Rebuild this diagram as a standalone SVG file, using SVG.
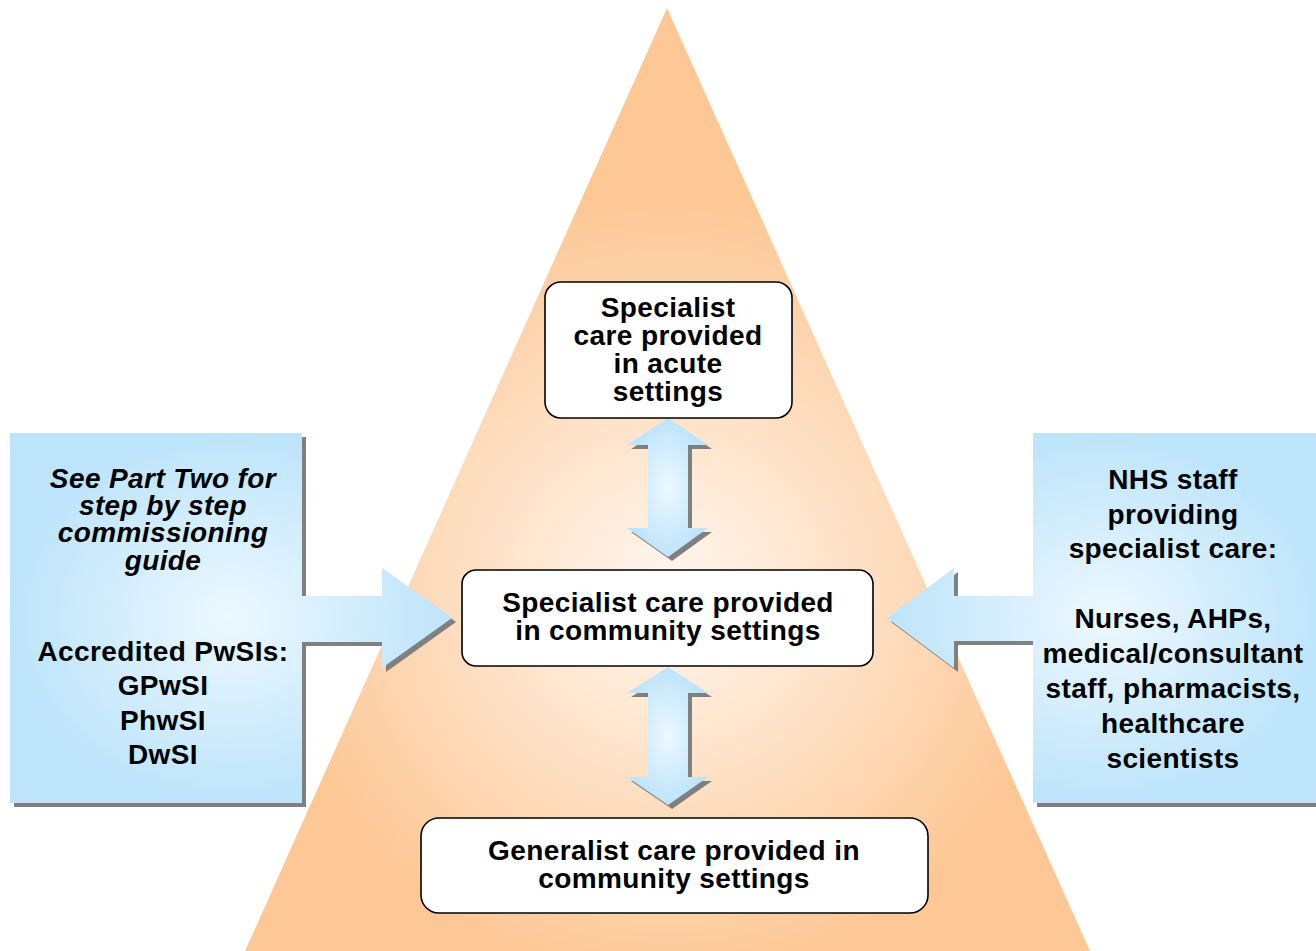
<svg xmlns="http://www.w3.org/2000/svg" width="1316" height="951" viewBox="0 0 1316 951">
<defs>
<radialGradient id="tri" gradientUnits="userSpaceOnUse" cx="667" cy="590" r="390">
<stop offset="0" stop-color="#FFF7F0"/>
<stop offset="0.5" stop-color="#FEE0C4"/>
<stop offset="1" stop-color="#FDC896"/>
</radialGradient>
<radialGradient id="blue" cx="0.5" cy="0.5" r="0.5">
<stop offset="0" stop-color="#EDF8FF"/>
<stop offset="1" stop-color="#BDE4FA"/>
</radialGradient>
<style>
.sh{fill:#808080}
.bx{fill:#ffffff;stroke:#000000;stroke-width:1.6}
.t{font-family:"Liberation Sans",Arial,sans-serif;font-weight:bold;font-size:28px;letter-spacing:0.4px;fill:#000000;text-anchor:middle}
.it{font-style:italic}
</style>
</defs>
<g id="pyramid">
<polygon points="667,8 1090,951 245,951" fill="url(#tri)"/>
</g>
<g id="connectors">
<g id="left-callout">
<path class="sh" transform="translate(4,4)" d="M10,433 H302 V596 H382 V568 L452,618 L382,668 V642 H302 V803 H10 Z"/>
<path fill="url(#blue)" d="M10,433 H302 V596 H382 V568 L452,618 L382,668 V642 H302 V803 H10 Z"/>
</g>
<g id="right-callout">
<path class="sh" transform="translate(4,4)" d="M1325,433 H1033 V596 H954 V568 L887,618 L954,668 V641 H1033 V803 H1325 Z"/>
<path fill="url(#blue)" d="M1325,433 H1033 V596 H954 V568 L887,618 L954,668 V641 H1033 V803 H1325 Z"/>
</g>
<g id="arrow-upper">
<path class="sh" transform="translate(4,4)" d="M668,418 L708,445 H688 V528 H708 L668,557 L627,528 H648 V445 H627 Z"/>
<path fill="url(#blue)" d="M668,418 L708,445 H688 V528 H708 L668,557 L627,528 H648 V445 H627 Z"/>
</g>
<g id="arrow-lower">
<path class="sh" transform="translate(4,4)" d="M668,667 L708,693 H688 V777 H708 L668,805 L627,777 H648 V693 H627 Z"/>
<path fill="url(#blue)" d="M668,667 L708,693 H688 V777 H708 L668,805 L627,777 H648 V693 H627 Z"/>
</g>
</g>
<g id="left-text">
<text class="t it" x="163" y="488">See Part Two for</text>
<text class="t it" x="163" y="515">step by step</text>
<text class="t it" x="163" y="542">commissioning</text>
<text class="t it" x="163" y="570">guide</text>
<text class="t" x="163" y="661">Accredited PwSIs:</text>
<text class="t" x="163" y="695">GPwSI</text>
<text class="t" x="163" y="730">PhwSI</text>
<text class="t" x="163" y="764">DwSI</text>
</g>
<g id="right-text">
<text class="t" x="1173" y="489">NHS staff</text>
<text class="t" x="1173" y="524">providing</text>
<text class="t" x="1173" y="558">specialist care:</text>
<text class="t" x="1173" y="628">Nurses, AHPs,</text>
<text class="t" x="1173" y="663">medical/consultant</text>
<text class="t" x="1173" y="698">staff, pharmacists,</text>
<text class="t" x="1173" y="733">healthcare</text>
<text class="t" x="1173" y="768">scientists</text>
</g>
<g id="node-acute">
<rect class="bx" x="545" y="282" width="247" height="136" rx="16"/>
<text class="t" x="668" y="317">Specialist</text>
<text class="t" x="668" y="345">care provided</text>
<text class="t" x="668" y="373">in acute</text>
<text class="t" x="668" y="401">settings</text>
</g>
<g id="node-community-specialist">
<rect class="bx" x="462" y="570" width="411" height="96" rx="14"/>
<text class="t" x="668" y="612">Specialist care provided</text>
<text class="t" x="668" y="640">in community settings</text>
</g>
<g id="node-generalist">
<rect class="bx" x="421" y="818" width="507" height="95" rx="18"/>
<text class="t" x="674" y="860">Generalist care provided in</text>
<text class="t" x="674" y="888">community settings</text>
</g>
</svg>
